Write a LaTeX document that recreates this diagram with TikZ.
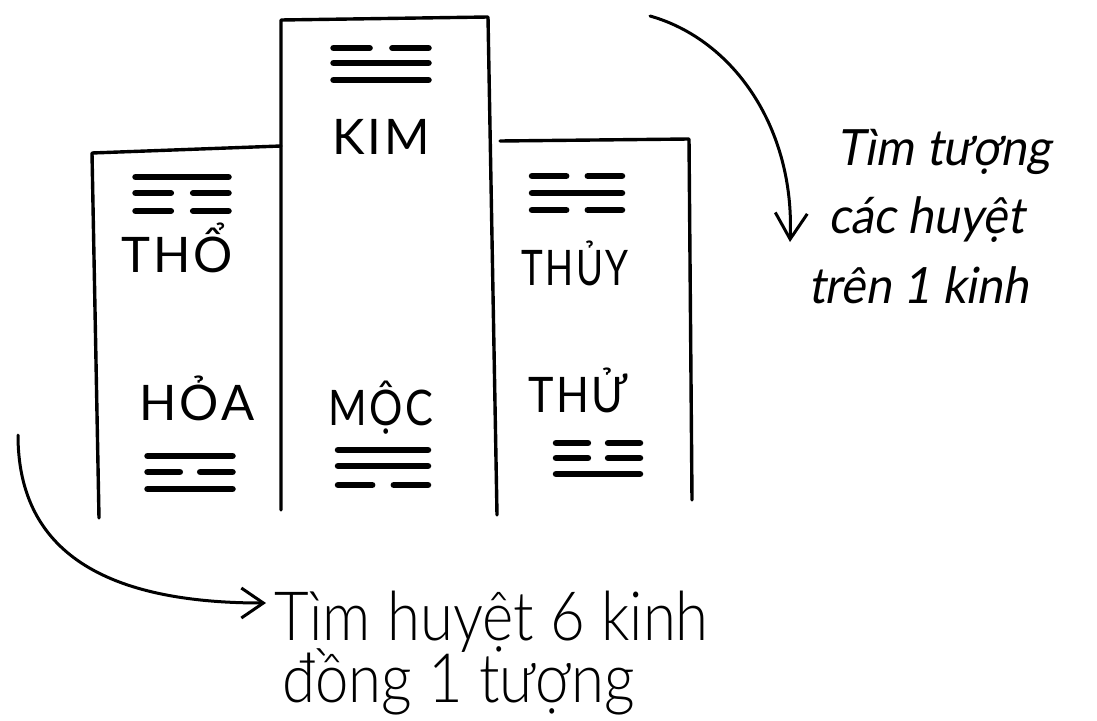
\documentclass[tikz,border=0pt]{standalone}
\usepackage{fontspec}
\setmainfont{Lato}
\newfontfamily\capsfont[LetterSpace=6]{Lato}
\newfontfamily\handfont[FakeStretch=0.88]{Lato Light}
\newfontfamily\slantfont[FakeSlant=0.18,FakeStretch=0.93]{Lato}
\usetikzlibrary{arrows.meta}

% one line of a trigram: centre x, y, width, 1 = whole / 0 = broken
\newcommand\yaoline[4]{%
  \ifnum#4=1
    \draw[yao] ({#1-#3/2},#2) -- ({#1+#3/2},#2);
  \else
    \draw[yao] ({#1-#3/2},#2) -- ({#1-#3*0.12},#2);
    \draw[yao] ({#1+#3*0.12},#2) -- ({#1+#3/2},#2);
  \fi}
% a trigram, lines listed from top to bottom
\newcommand\trigram[8]{%
  \yaoline{#1}{#3}{#2}{#6}%
  \yaoline{#1}{#4}{#2}{#7}%
  \yaoline{#1}{#5}{#2}{#8}}
% narrower lettering for the longer names
\newcommand\narrow[2]{\scalebox{#1}[1]{#2}}

\begin{document}
\begin{tikzpicture}[x=1pt,y=-1pt,
    frame/.style={line width=3.4pt,line cap=round,line join=round},
    yao/.style={line width=6.5pt,line cap=round},
    conn/.style={line width=3pt,line cap=round},
    elem/.style={font=\capsfont\fontsize{49}{52}\selectfont,anchor=base,inner sep=0pt},
    note/.style={font=\slantfont\fontsize{50}{52}\selectfont,anchor=base west,inner sep=0pt},
    bignote/.style={font=\handfont\fontsize{68}{70}\selectfont,anchor=base west,inner sep=0pt}]
\useasboundingbox (0,0) rectangle (1097,720);

% columns
\draw[frame] (281,510) -- (281,20) -- (488,17) -- (497,515);
\draw[frame] (99,518) -- (92,153) -- (281,146);
\draw[frame] (500,141) -- (689,139) -- (692,500);

% element names
\node[elem] (kim)  at (381,154) {KIM};
\node[elem] (tho)  at (177,272) {THỔ};
\node[elem] (thuy) at (575,285) {\narrow{0.75}{THỦY}};
\node[elem] (hoa)  at (197,420) {HỎA};
\node[elem] (moc)  at (381,425) {\narrow{0.85}{MỘC}};
\node[elem] (thu)  at (578,412) {\narrow{0.88}{THỬ}};

% trigrams
\trigram{381}{95}{48}{63}{80}{0}{1}{1}
\trigram{182}{93}{177}{193}{211}{1}{0}{0}
\trigram{577}{90}{176}{193}{210}{0}{1}{0}
\trigram{190}{85}{456}{472}{489}{1}{0}{1}
\trigram{383}{90}{450}{466}{485}{1}{1}{0}
\trigram{598}{84}{443}{458}{474}{0}{0}{1}

% notes
\node[note] (r1) at (836,165) {Tìm tượng};
\node[note] (r2) at (828,233) {các huyệt};
\node[note] (r3) at (808,303) {trên 1 kinh};
\node[bignote] (b1) at (274,640) {Tìm huyệt 6 kinh};
\node[bignote] (b2) at (282,702) {đồng 1 tượng};

% arrows
\coordinate (a1s) at (650,16);
\coordinate (a1e) at (790,242);
\draw[conn,-{Straight Barb[length=26pt,width=32pt,line width=3pt]}]
  (a1s) .. controls (735,40) and (795,130) .. (a1e);
\coordinate (a2s) at (18,435);
\coordinate (a2e) at (266,603);
\draw[conn,-{Straight Barb[length=22pt,width=30pt,line width=3pt]}]
  (a2s) .. controls (18,545) and (95,603) .. (a2e);
\end{tikzpicture}
\end{document}
